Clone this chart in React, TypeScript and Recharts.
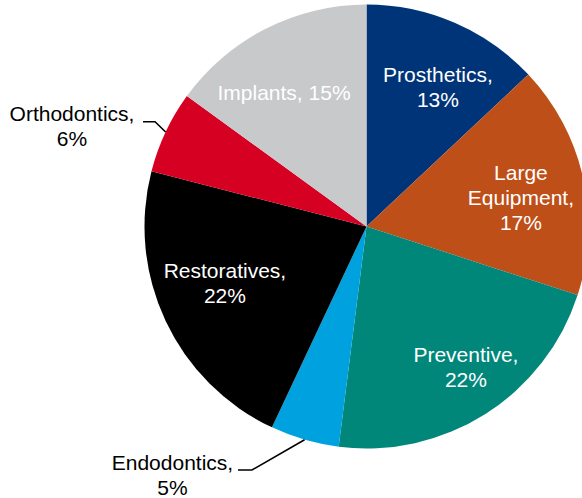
import React from 'react';
import { PieChart, Pie, Cell } from 'recharts';

const categories = ['Prosthetics', 'Large Equipment', 'Preventive', 'Endodontics', 'Restoratives', 'Orthodontics', 'Implants'];
const shares = [13, 17, 22, 5, 22, 6, 15];
const colors = ['#003479', '#BE4F19', '#00877A', '#00A1DF', '#000000', '#D50022', '#C8C9CB'];
// how each label is broken into lines: 'two' = "Name," / "v%", 'words' = each word then value, 'one' = single line
const labelBreaks = ['two', 'words', 'two', 'two', 'two', 'two', 'one'];

type Inside = { kind: 'in'; f: number; shift: number; color: string };
type Outside = { kind: 'out'; ex: number; ey: number; h: number; tx: number; ty: number; color: string };
const labelLayout: (Inside | Outside)[] = [
  { kind: 'in', f: 0.706, shift: 3.7, color: '#fff' },
  { kind: 'in', f: 0.708, shift: 1.8, color: '#fff' },
  { kind: 'in', f: 0.777, shift: -2.8, color: '#fff' },
  { kind: 'out', ex: -52.6, ey: 30.3, h: -14, tx: -65.5, ty: -7.5, color: '#000' },
  { kind: 'in', f: 0.686, shift: 3.6, color: '#fff' },
  { kind: 'out', ex: -10.6, ey: -10.3, h: -12, tx: -71, ty: -8, color: '#000' },
  { kind: 'in', f: 0.707, shift: -4.7, color: '#fff' },
];

const data = categories.map((name, i) => ({ name, value: shares[i] }));

const RADIAN = Math.PI / 180;
const FONT = '"Liberation Sans", Arial, sans-serif';
const FS = 21;
const LH = 25;

function linesFor(i: number): string[] {
  const name = categories[i];
  const v = `${shares[i]}%`;
  const mode = labelBreaks[i];
  if (mode === 'one') return [`${name}, ${v}`];
  if (mode === 'words') {
    const w = name.split(' ');
    w[w.length - 1] = w[w.length - 1] + ',';
    return [...w, v];
  }
  return [`${name},`, v];
}

const renderLabel = (props: any) => {
  const { cx, cy, midAngle, outerRadius, index } = props;
  const cfg = labelLayout[index];
  const lines = linesFor(index);
  if (cfg.kind === 'in') {
    const theta = (90 - midAngle + cfg.shift) * RADIAN;
    const r = outerRadius * cfg.f;
    const x = cx + r * Math.sin(theta);
    const y = cy - r * Math.cos(theta);
    const y0 = y - ((lines.length - 1) * LH) / 2;
    return (
      <g key={`l${index}`}>
        {lines.map((t, k) => (
          <text key={k} x={x} y={y0 + k * LH} fill={cfg.color} textAnchor="middle" dominantBaseline="central"
            style={{ fontFamily: FONT, fontSize: FS }}>{t}</text>
        ))}
      </g>
    );
  }
  const ex = cx + outerRadius * Math.cos(-midAngle * RADIAN);
  const ey = cy + outerRadius * Math.sin(-midAngle * RADIAN);
  const bx = ex + cfg.ex;
  const by = ey + cfg.ey;
  const hx = bx + cfg.h;
  const tx = hx + cfg.tx;
  const ty = by + cfg.ty;
  return (
    <g key={`l${index}`}>
      <polyline points={`${ex},${ey} ${bx},${by} ${hx},${by}`} fill="none" stroke="#000" strokeWidth={1.6} />
      {lines.map((t, k) => (
        <text key={k} x={tx} y={ty + k * LH} fill={cfg.color} textAnchor="middle" dominantBaseline="central"
          style={{ fontFamily: FONT, fontSize: FS }}>{t}</text>
      ))}
    </g>
  );
};

export default function App() {
  return (
    <div style={{ position: 'absolute', left: 0, top: 0, width: 582, height: 498, background: '#fff' }}>
      <PieChart width={582} height={498} margin={{ top: 0, right: 0, bottom: 0, left: 0 }}>
        <Pie
          data={data}
          dataKey="value"
          nameKey="name"
          cx={366.5}
          cy={226.5}
          outerRadius={222}
          startAngle={90}
          endAngle={-270}
          stroke="none"
          label={renderLabel}
          labelLine={false}
          isAnimationActive={false}
        >
          {data.map((d, i) => (
            <Cell key={d.name} fill={colors[i]} stroke="none" />
          ))}
        </Pie>
      </PieChart>
    </div>
  );
}
